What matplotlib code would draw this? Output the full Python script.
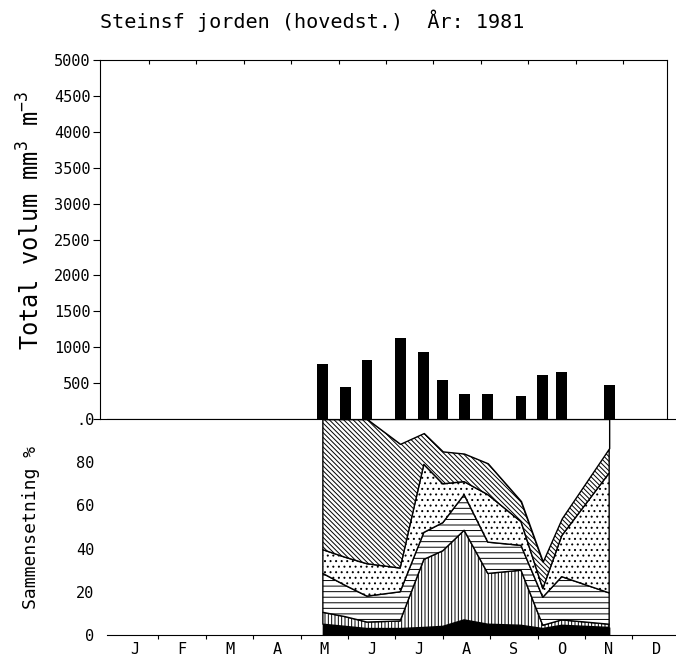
import numpy as np
import matplotlib.pyplot as plt

plt.rcParams['font.family'] = 'DejaVu Sans Mono'
plt.rcParams['mathtext.fontset'] = 'custom'
plt.rcParams['mathtext.rm'] = 'DejaVu Sans Mono'
plt.rcParams['mathtext.it'] = 'DejaVu Sans Mono'
plt.rcParams['hatch.linewidth'] = 0.7
plt.rcParams['axes.linewidth'] = 0.8

# sampling dates (month units, 0 = 1 Jan)
sample_month = [4.47, 4.94, 5.40, 6.10, 6.60, 7.00, 7.45, 7.95, 8.65, 9.11, 9.51, 10.51]
total_volume = [770, 450, 820, 1130, 930, 550, 350, 350, 320, 610, 650, 470]

# composition in percent, bottom group first
group_black = [5, 4, 3, 3, 3.5, 4, 7, 5, 4.5, 3, 4.5, 3.5]
group_vert = [5.5, 4.5, 3, 3.5, 31.5, 35, 41.5, 23.5, 25.5, 1.5, 2.5, 1.5]
group_horiz = [18, 14.5, 12, 13.5, 12.5, 13, 16.5, 14.5, 11.5, 13, 20, 14.5]
group_dots = [11, 13, 15, 11, 31.5, 18, 6, 22, 11, 4, 19, 55.5]
group_diag = [60.5, 64, 67, 57.5, 14.5, 15, 13, 14.5, 9.5, 12.5, 8, 11.5]

month_labels = ['J', 'F', 'M', 'A', 'M', 'J', 'J', 'A', 'S', 'O', 'N', 'D']
volume_ticks = np.arange(0, 5001, 500)
pct_ticks = [0, 20, 40, 60, 80, 100]
pct_labels = ['0', '20', '40', '60', '80', '.0']

W, H = 676, 662
fig = plt.figure(figsize=(W / 100, H / 100), dpi=100)
fig.set_facecolor('white')


def px_axes(left, top, right, bottom):
    return fig.add_axes([left / W, 1 - bottom / H, (right - left) / W, (bottom - top) / H])


# Top panel: total volume bars
ax1 = px_axes(100, 60, 667, 419)
ax1.bar(sample_month, total_volume, width=0.23, color='black')
ax1.set_xlim(-0.232, 11.73)
ax1.set_ylim(0, 5000)
ax1.set_yticks(volume_ticks)
ax1.set_yticklabels([''] + [str(v) for v in volume_ticks[1:]])
ax1.tick_params(axis='y', direction='out', length=5, labelsize=11, pad=2)
ax1.xaxis.tick_top()
ax1.set_xticks(np.arange(1, 12) - 0.2)
ax1.tick_params(axis='x', direction='in', length=3, labeltop=False)

# Bottom panel: composition
ax2 = px_axes(107, 419, 676, 635)
layers = [group_black, group_vert, group_horiz, group_dots, group_diag]
faces = ['black', 'white', 'white', 'white', 'white']
hatches = [None, '|||||', '---', '...', chr(92) * 7]
base = np.zeros(len(sample_month))
for vals, fc, h in zip(layers, faces, hatches):
    top = base + np.array(vals)
    ax2.fill_between(sample_month, base, top, facecolor=fc, edgecolor='black',
                     hatch=h, linewidth=1.0)
    base = top
ax2.fill_between(sample_month, base, 100, facecolor='white', edgecolor='black', linewidth=1.0)

ax2.set_xlim(-0.084, 11.92)
ax2.set_ylim(0, 100)
ax2.spines['left'].set_visible(False)
ax2.spines['right'].set_visible(False)
ax2.set_yticks(pct_ticks)
ax2.set_yticklabels(pct_labels)
ax2.tick_params(axis='y', length=0, labelsize=11, pad=9)
ax2.set_xticks(np.arange(1, 12))
ax2.set_xticklabels([])
ax2.set_xticks(np.arange(12) + 0.5, minor=True)
ax2.set_xticklabels(month_labels, minor=True)
ax2.tick_params(axis='x', which='major', direction='out', length=3)
ax2.tick_params(axis='x', which='minor', length=0, labelsize=11, pad=5)

# Texts
fig.text(100 / W, 1 - 28 / H, 'Steinsf jorden (hovedst.)  År: 1981', fontsize=14.5, va='baseline')
fig.text(31 / W, 1 - 220 / H, r'Total volum mm$^{3}$ m$^{-3}$', rotation=90, fontsize=17,
         ha='center', va='center')
fig.text(31 / W, 1 - 527 / H, 'Sammensetning %', rotation=90, fontsize=13,
         ha='center', va='center')

plt.savefig('out.png', dpi=100)
